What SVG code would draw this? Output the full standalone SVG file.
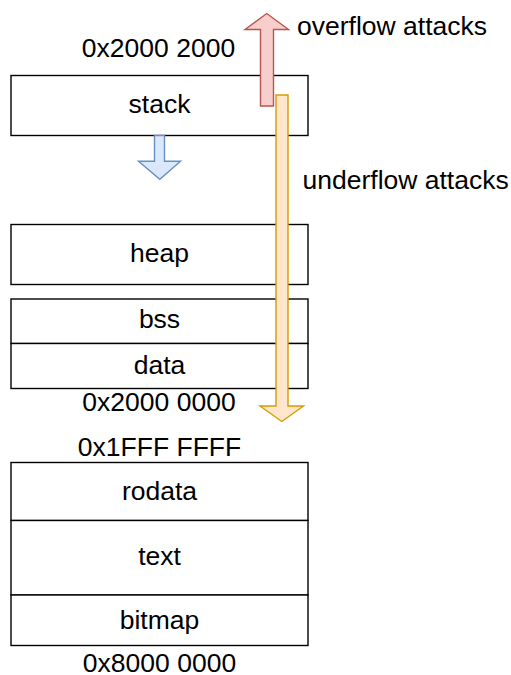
<svg xmlns="http://www.w3.org/2000/svg" width="511" height="675" viewBox="0 0 511 675">
<style>
.box{fill:#ffffff;stroke:#000000;stroke-width:1.4}
.t{font-family:"Liberation Sans",Arial,sans-serif;font-size:26.5px;fill:#000000}
.c{text-anchor:middle}
.red{fill:#f8cecc;stroke:#b85450;stroke-width:1.4}
.orange{fill:#ffe6cc;stroke:#d79b00;stroke-width:1.4}
.blue{fill:#dae8fc;stroke:#6c8ebf;stroke-width:1.4}
</style>
<rect width="511" height="675" fill="#ffffff"/>
<g id="stack"><rect class="box" x="11" y="75.5" width="297" height="60"/><text class="t c" x="159.5" y="113">stack</text></g>
<g id="heap"><rect class="box" x="11" y="224.5" width="297" height="60"/><text class="t c" x="159.5" y="262">heap</text></g>
<g id="bss"><rect class="box" x="11" y="299" width="297" height="44.5"/><text class="t c" x="159.5" y="328">bss</text></g>
<g id="data"><rect class="box" x="11" y="343.5" width="297" height="45"/><text class="t c" x="159.5" y="373.5">data</text></g>
<g id="rodata"><rect class="box" x="11" y="462.5" width="297" height="58"/><text class="t c" x="159.5" y="500">rodata</text></g>
<g id="text"><rect class="box" x="11" y="520.5" width="297" height="74.5"/><text class="t c" x="159.5" y="565">text</text></g>
<g id="bitmap"><rect class="box" x="11" y="595" width="297" height="50.5"/><text class="t c" x="159.5" y="628.5">bitmap</text></g>
<g id="labels">
<text class="t c" x="158.5" y="56.5">0x2000 2000</text>
<text class="t c" x="159" y="411">0x2000 0000</text>
<text class="t c" x="159.5" y="455.5">0x1FFF FFFF</text>
<text class="t c" x="159.5" y="671.5">0x8000 0000</text>
<text class="t" x="297" y="34.5">overflow attacks</text>
<text class="t" x="302.5" y="188.5">underflow attacks</text>
</g>
<g id="connectors">
<polygon id="overflow" class="red" points="260.5,106 260.5,29.5 245,29.5 266.8,13.5 288.5,29.5 273.5,29.5 273.5,106"/>
<polygon id="underflow" class="orange" points="276,95 288,95 288,406 303.5,406 281.8,421.5 260,406 276,406"/>
<polygon id="grow" class="blue" points="154.5,135.5 164.5,135.5 164.5,161.3 180.5,161.3 159.8,179.3 138.5,161.3 154.5,161.3"/>
</g>
</svg>
